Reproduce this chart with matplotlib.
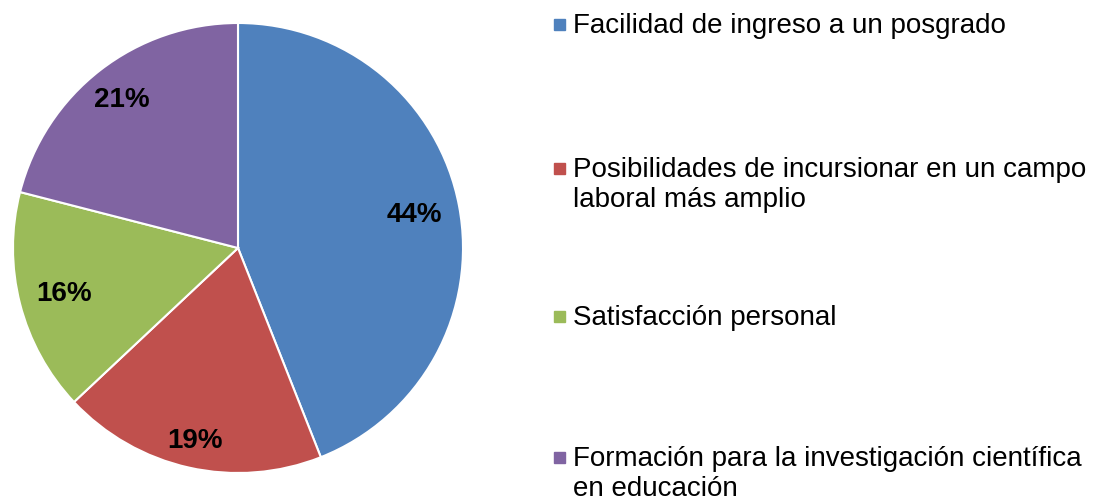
import numpy as np
import matplotlib.pyplot as plt

plt.rcParams['font.family'] = ['Liberation Sans', 'DejaVu Sans']

labels = ['Facilidad de ingreso a un posgrado',
          'Posibilidades de incursionar en un campo\nlaboral más amplio',
          'Satisfacción personal',
          'Formación para la investigación científica\nen educación']
values = [44, 19, 16, 21]
colors = ['#4F81BD', '#C0504D', '#9BBB59', '#8064A2']
label_dist = [0.80, 0.875, 0.80, 0.84]

fig = plt.figure(figsize=(10.93, 5.02), dpi=100)
ax = fig.add_axes([13 / 1093, 28 / 502, 450 / 1093, 450 / 502])

wedges, texts, autotexts = ax.pie(values, colors=colors, startangle=90, counterclock=False,
                                  autopct='%d%%', pctdistance=0.8,
                                  wedgeprops=dict(edgecolor='white', linewidth=1.5),
                                  textprops=dict(fontsize=20, fontweight='bold', color='black'))
# ajustar distancia de cada etiqueta
for w, t, d in zip(wedges, autotexts, label_dist):
    ang = np.deg2rad((w.theta1 + w.theta2) / 2)
    t.set_position((d * np.cos(ang), d * np.sin(ang)))
ax.set_xlim(-1, 1)
ax.set_ylim(-1, 1)
ax.set_aspect('equal')

# leyenda a mano (y = linea base de la primera linea, en px)
baselines = [33, 177, 325, 466]
for yb, lab, c in zip(baselines, labels, colors):
    fig.patches.append(plt.Rectangle((554 / 1093, 1 - (yb - 2) / 502), 11 / 1093, 11 / 502,
                                     transform=fig.transFigure, color=c))
    for i, line in enumerate(lab.split('\n')):
        fig.text(573 / 1093, 1 - (yb + i * 30) / 502, line, fontsize=20,
                 va='baseline', ha='left', transform=fig.transFigure)

plt.savefig('out.png', dpi=100)
